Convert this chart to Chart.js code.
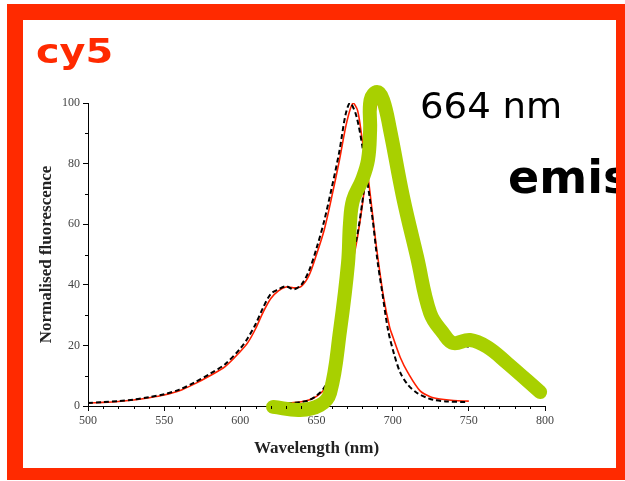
<!DOCTYPE html>
<html>
<head>
<meta charset="utf-8">
<script src="https://cdn.jsdelivr.net/npm/chart.js@4.4.0/dist/chart.umd.min.js"></script>
<style>
  html, body { margin: 0; padding: 0; background: #fff; }
  body { width: 625px; height: 481px; position: relative; overflow: hidden; }
  #frame {
    position: absolute; left: 7px; top: 4px;
    width: 593px; height: 448px;
    border-style: solid; border-color: #ff2a00;
    border-width: 16px 12px 12px 16px;
    background: #fff;
  }
  #chart { position: absolute; left: 0; top: 0; }
  .txt { position: absolute; white-space: nowrap; font-family: "DejaVu Sans", sans-serif; line-height: 1; }
  #title { left: 36px; top: 34px; font-size: 34px; font-weight: bold; color: #ff2a00; transform: scaleX(1.17); transform-origin: left top; }
  #wave { left: 420px; top: 88px; font-size: 36px; color: #000; transform: scaleX(1.03); transform-origin: left top; }
  #emisBox { position: absolute; left: 508px; top: 150px; width: 108px; height: 60px; overflow: hidden; }
  #emis { left: 0; top: 4px; font-size: 46px; font-weight: bold; color: #000; }
</style>
</head>
<body>
<div id="frame"></div>
<canvas id="chart" width="625" height="481"></canvas>
<div class="txt" id="title">cy5</div>
<div class="txt" id="wave">664 nm</div>
<div id="emisBox"><div class="txt" id="emis">emission</div></div>
<script>
// Absorption spectra (red solid / black dashed)
const absRedWl = [500, 510, 520, 530, 540, 550, 560, 570, 580, 590, 600, 605, 610, 615, 620, 625, 630, 635, 640, 645, 650, 655, 660, 665, 670, 674, 677, 680, 684, 688, 690, 694, 698, 700, 705, 710, 718, 725, 731, 740, 750];
const absRedVal = [1.0, 1.2, 1.5, 2.0, 2.7, 3.6, 5.0, 7.3, 10.0, 13.0, 18.0, 21.0, 25.5, 31.0, 35.5, 38.0, 39.3, 39.0, 39.5, 43.0, 50.0, 58.0, 69.0, 81.0, 94.0, 100, 97.5, 88.0, 75.0, 58.0, 50.0, 36.0, 26.0, 23.0, 16.0, 11.0, 5.0, 3.0, 2.3, 1.8, 1.6];
const absBlackWl = [500, 510, 520, 530, 540, 550, 560, 570, 580, 590, 600, 605, 610, 615, 620, 625, 630, 635, 640, 645, 650, 655, 660, 665, 669, 672, 676, 680, 684, 687, 690, 693, 697, 701, 705, 710, 716, 722, 727, 735, 749];
const absBlackVal = [1.0, 1.3, 1.6, 2.1, 2.9, 3.9, 5.4, 7.8, 10.6, 13.8, 19.0, 22.5, 27.0, 32.5, 37.0, 38.5, 39.5, 38.5, 40.0, 44.5, 52.0, 61.0, 72.0, 84.0, 96.0, 100, 96.0, 86.0, 72.0, 61.0, 48.0, 38.0, 25.0, 17.0, 11.0, 7.0, 4.3, 2.8, 2.0, 1.5, 1.3];

// Emission spectra (red solid / black dashed)
const emRedWl = [620, 625, 630, 635, 640, 645, 650, 655, 660, 665, 670, 674, 677, 680, 683, 687, 690, 694, 699.5, 704.5, 708.5, 713.5, 717.5, 721.5, 725.5, 729.5, 734.5, 739.5, 745, 750];
const emRedVal = [0.6, 0.7, 0.9, 1.1, 1.4, 2.0, 3.2, 5.5, 11.0, 22.0, 37.0, 48.0, 56.0, 66.0, 78.0, 92.0, 100, 98.0, 91.0, 79.0, 69.0, 57.0, 48.0, 40.0, 32.0, 27.0, 23.5, 22.0, 21.0, 20.0];
const emBlackWl = [620, 625, 630, 635, 640, 645, 650, 655, 660, 665, 670, 674, 677, 680, 683, 686, 689, 693, 699, 704, 708, 713, 717, 721, 725, 729, 734, 739, 744, 750];
const emBlackVal = [0.5, 0.6, 0.8, 1.0, 1.3, 1.9, 3.4, 6.0, 12.0, 24.0, 39.0, 50.0, 57.0, 67.0, 79.0, 91.0, 100, 98.0, 91.0, 79.0, 69.0, 57.0, 48.0, 40.0, 32.0, 27.0, 23.5, 22.0, 20.5, 19.5];

// Hand-drawn emission overlay (thick green stroke)
const greenWl = [621.5, 639.2, 652.3, 658.9, 665.5, 670.7, 672.0, 674.0, 679.9, 683.8, 685.2, 685.5, 689.8, 693.7, 698.3, 706.8, 716.0, 724.6, 733.1, 739.7, 750.8, 762.0, 775.1, 796.8];
const greenVal = [-0.3, -1.3, 0.3, 4.3, 25.1, 47.2, 60.4, 68.0, 74.6, 81.2, 91.1, 101, 103.6, 101, 91.1, 69.0, 49.2, 30.7, 24.1, 20.8, 21.8, 19.5, 14.2, 4.6];

const xTicks = [500, 550, 600, 650, 700, 750, 800];
const yTicks = [0, 20, 40, 60, 80, 100];

function toPoints(xs, ys) {
  return xs.map((x, i) => ({ x: x, y: ys[i] }));
}

// small minor ticks between the labelled ones
const minorTicks = {
  id: 'minorTicks',
  afterDraw(chart) {
    const { ctx, scales: { x, y } } = chart;
    ctx.save();
    ctx.strokeStyle = '#000';
    ctx.lineWidth = 1;
    ctx.beginPath();
    for (let v = 510; v < 800; v += 10) {
      if (v % 50 === 0) continue;
      const px = Math.round(x.getPixelForValue(v)) + 0.5;
      ctx.moveTo(px, y.bottom);
      ctx.lineTo(px, y.bottom + 3);
    }
    for (let v = 10; v < 100; v += 20) {
      const py = Math.round(y.getPixelForValue(v)) + 0.5;
      ctx.moveTo(x.left - 3, py);
      ctx.lineTo(x.left, py);
    }
    ctx.stroke();
    ctx.restore();
  }
};

const tickFont = { family: '"Liberation Serif", serif', size: 12 };
const titleFont = { family: '"Liberation Serif", serif', size: 17, weight: 'bold' };

new Chart(document.getElementById('chart').getContext('2d'), {
  type: 'line',
  data: {
    datasets: [
      // first dataset is painted last, so the green stroke sits on top
      { data: toPoints(greenWl, greenVal), borderColor: '#a8d000', borderWidth: 14, pointRadius: 0, tension: 0.4,
        borderCapStyle: 'round', borderJoinStyle: 'round', clip: false },
      { data: toPoints(emBlackWl, emBlackVal), borderColor: '#000', borderWidth: 2, borderDash: [5, 3], pointRadius: 0, tension: 0.3 },
      { data: toPoints(emRedWl, emRedVal), borderColor: '#ff2000', borderWidth: 1.6, pointRadius: 0, tension: 0.3 },
      { data: toPoints(absBlackWl, absBlackVal), borderColor: '#000', borderWidth: 2, borderDash: [5, 3], pointRadius: 0, tension: 0.3 },
      { data: toPoints(absRedWl, absRedVal), borderColor: '#ff2000', borderWidth: 1.6, pointRadius: 0, tension: 0.3 }
    ]
  },
  options: {
    responsive: false,
    animation: false,
    devicePixelRatio: 1,
    layout: { padding: { left: 0, top: 103, right: 80, bottom: 0 } },
    plugins: { legend: { display: false }, tooltip: { enabled: false } },
    scales: {
      x: {
        type: 'linear', min: 500, max: 800,
        afterBuildTicks: (s) => { s.ticks = xTicks.map(v => ({ value: v })); },
        afterFit: (s) => { s.height = 75; },
        grid: { drawOnChartArea: false, drawTicks: true, tickLength: 5, color: '#000' },
        border: { display: true, color: '#000', width: 1 },
        ticks: { color: '#444', font: tickFont, padding: 3, maxRotation: 0 },
        title: { display: true, text: 'Wavelength (nm)', color: '#222', font: titleFont, padding: { top: 0, bottom: 22 } }
      },
      y: {
        min: 0, max: 100,
        afterBuildTicks: (s) => { s.ticks = yTicks.map(v => ({ value: v })); },
        afterFit: (s) => { s.width = 88; },
        grid: { drawOnChartArea: false, drawTicks: true, tickLength: 5, color: '#000' },
        border: { display: true, color: '#000', width: 1 },
        ticks: { color: '#444', font: tickFont, padding: 3 },
        title: { display: true, text: 'Normalised fluorescence', color: '#222', font: titleFont, padding: { top: 36, bottom: 0 } }
      }
    }
  },
  plugins: [minorTicks]
});
</script>
</body>
</html>
